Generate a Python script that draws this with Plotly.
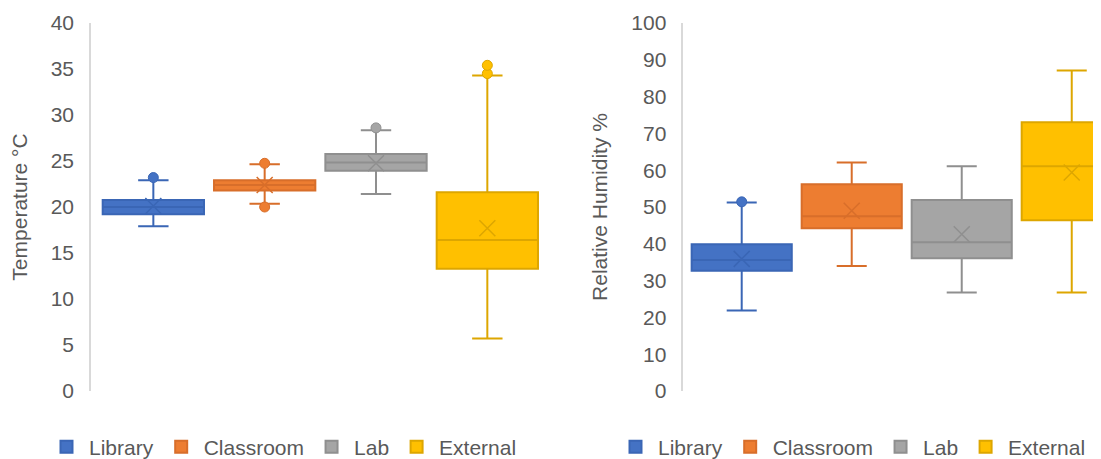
import plotly.graph_objects as go

# ---------------- data ----------------
categories = ["Library", "Classroom", "Lab", "External"]

temp_q1 = [19.2, 21.8, 23.95, 13.3]
temp_median = [20.0, 22.4, 24.85, 16.4]
temp_q3 = [20.75, 22.9, 25.75, 21.6]
temp_lower = [17.9, 20.35, 21.4, 5.7]
temp_upper = [22.9, 24.65, 28.35, 34.3]
temp_mean = [20.1, 22.4, 24.75, 17.7]
temp_outliers = [[23.2], [24.75, 20.0], [28.6], [34.5, 35.4]]

hum_q1 = [32.7, 44.2, 36.05, 46.4]
hum_median = [35.6, 47.5, 40.4, 61.1]
hum_q3 = [39.9, 56.2, 51.9, 73.0]
hum_lower = [21.9, 34.0, 26.8, 26.8]
hum_upper = [51.2, 62.1, 61.1, 87.1]
hum_mean = [35.9, 49.0, 42.6, 59.4]
hum_outliers = [[51.4], [], [], []]

temp_ticks = [0, 5, 10, 15, 20, 25, 30, 35, 40]
hum_ticks = [0, 10, 20, 30, 40, 50, 60, 70, 80, 90, 100]

# ---------------- style ----------------
fills = ["#4472C4", "#ED7D31", "#A5A5A5", "#FFC000"]
lines = ["#3A66B5", "#D86E2A", "#8F8F8F", "#DDA600"]
FONT = "Liberation Sans, Arial, sans-serif"
TXT = "#595959"
FS = 21

# the page body has an 8px margin; figure is sized so it fills the window
OFF = 8
W, H = 1101 - OFF, 459 - OFF


def fx(px):  # page x pixel -> figure fraction
    return (px - OFF) / W


fig = go.Figure()


def add_panel(q1, med, q3, lo, hi, mean, outl, xa, ya, legend):
    for i, cat in enumerate(categories):
        fig.add_trace(go.Box(
            x=[cat], q1=[q1[i]], median=[med[i]], q3=[q3[i]],
            lowerfence=[lo[i]], upperfence=[hi[i]],
            name=cat, legend=legend, xaxis=xa, yaxis=ya,
            fillcolor=fills[i], line=dict(color=lines[i], width=2),
            width=0.91, whiskerwidth=0.3, boxpoints=False,
            hoverinfo="skip",
        ))
        # mean marker (X)
        fig.add_trace(go.Scatter(
            x=[cat], y=[mean[i]], mode="markers", xaxis=xa, yaxis=ya,
            marker=dict(symbol="x-thin", size=16,
                        line=dict(color=lines[i], width=1.5)),
            showlegend=False, hoverinfo="skip",
        ))
        if outl[i]:
            fig.add_trace(go.Scatter(
                x=[cat] * len(outl[i]), y=outl[i], mode="markers",
                xaxis=xa, yaxis=ya,
                marker=dict(symbol="circle", size=10, color=fills[i],
                            line=dict(color=lines[i], width=1)),
                showlegend=False, hoverinfo="skip",
            ))


add_panel(temp_q1, temp_median, temp_q3, temp_lower, temp_upper,
          temp_mean, temp_outliers, "x", "y", "legend")
add_panel(hum_q1, hum_median, hum_q3, hum_lower, hum_upper,
          hum_mean, hum_outliers, "x2", "y2", "legend2")

xcommon = dict(type="category", categoryorder="array", categoryarray=categories,
               showticklabels=False, showline=False, showgrid=False,
               zeroline=False, ticks="")
ycommon = dict(showline=True, linecolor="#D9D9D9", linewidth=1.5,
               showgrid=False, zeroline=False, ticks="outside", ticklen=11,
               tickcolor="rgba(0,0,0,0)",
               tickfont=dict(family=FONT, size=FS, color=TXT))

legend_common = dict(orientation="h", xref="container", yref="container",
                     yanchor="middle", xanchor="left",
                     font=dict(family=FONT, size=FS, color=TXT),
                     bgcolor="rgba(0,0,0,0)", itemwidth=35, tracegroupgap=0)

fig.update_layout(
    width=W, height=H,
    margin=dict(l=0, r=0, t=23 - OFF, b=H - (391 - OFF)),
    paper_bgcolor="white", plot_bgcolor="white",
    boxmode="overlay",
    showlegend=True,
    xaxis=dict(domain=[fx(91), fx(543)], range=[-0.56, 3.5], anchor="y", **xcommon),
    xaxis2=dict(domain=[fx(683.3), 1.0], range=[-0.531, 3.266], anchor="y2", **xcommon),
    yaxis=dict(range=[0, 40], tickvals=temp_ticks, anchor="x",
               title=dict(text="Temperature °C", standoff=18,
                          font=dict(family=FONT, size=FS, color=TXT)),
               **ycommon),
    yaxis2=dict(range=[0, 100], tickvals=hum_ticks, anchor="x2",
                title=dict(text="Relative Humidity %", standoff=18,
                           font=dict(family=FONT, size=FS, color=TXT)),
                **ycommon),
    legend=dict(x=fx(44), y=1 - (447 - OFF) / H, **legend_common),
    legend2=dict(x=fx(613), y=1 - (447 - OFF) / H, **legend_common),
)

fig.write_html("out.html")
